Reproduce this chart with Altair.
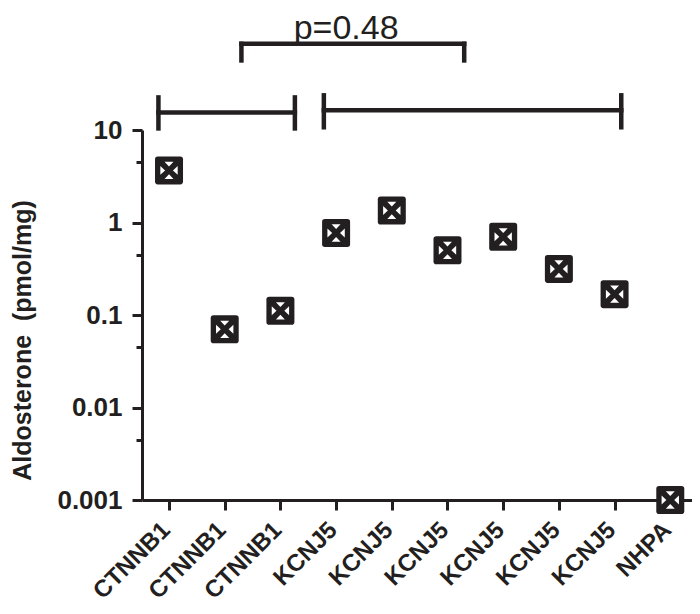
import json
import altair as alt
import pandas as pd

# ---- data ----
categories = ["CTNNB1", "CTNNB1", "CTNNB1", "KCNJ5", "KCNJ5", "KCNJ5",
              "KCNJ5", "KCNJ5", "KCNJ5", "NHPA"]
aldosterone = [3.66, 0.070, 0.111, 0.77, 1.35, 0.50, 0.70, 0.315, 0.168, 0.001]

y_major_ticks = [0.001, 0.01, 0.1, 1, 10]
y_minor_ticks = [0.0045, 0.045, 0.45, 4.5]

# group brackets (category-index units / data units)
group_x1 = [-0.19, 2.78]
group_x2 = [2.26, 8.12]
group_y = [15.5, 16.3]
group_top = [22.5, 23.7]
group_bottom = [10.4, 10.7]

# comparison bracket
compare_x = [1.30, 5.30]
compare_y = 85.5
compare_leg = 56.5

p_label = "p=0.48"
p_label_x = 3.18
p_label_y = 97.5

INK = "#231f20"
FONT = "Arial"

# ---- tables ----
points = pd.DataFrame({
    "idx": list(range(len(categories))),
    "cat": categories,
    "value": aldosterone,
})

segs = []
for a, b, h, t, bt in zip(group_x1, group_x2, group_y, group_top, group_bottom):
    segs.append({"x": a, "x2": b, "y": h, "y2": h})
    segs.append({"x": a, "x2": a, "y": t, "y2": bt})
    segs.append({"x": b, "x2": b, "y": t, "y2": bt})
segs.append({"x": compare_x[0], "x2": compare_x[1], "y": compare_y, "y2": compare_y})
segs.append({"x": compare_x[0], "x2": compare_x[0], "y": compare_y, "y2": compare_leg})
segs.append({"x": compare_x[1], "x2": compare_x[1], "y": compare_y, "y2": compare_leg})
segs = pd.DataFrame(segs).rename(columns={"x": "idx", "y": "value"})

ptext = pd.DataFrame({"idx": [p_label_x], "value": [p_label_y], "t": [p_label]})

# ---- scales & axes ----
xscale = alt.Scale(domain=[-0.485, 9.39], nice=False, zero=False)
yscale = alt.Scale(type="log", domain=[0.001, 10], nice=False)

major_test = "indexof(" + json.dumps(y_major_ticks) + ", datum.value) >= 0"

xaxis = alt.Axis(
    values=list(range(len(categories))),
    labelExpr=json.dumps(categories) + "[datum.value]",
    title=None, grid=False,
    labelAngle=-45, labelAlign="right", labelBaseline="middle",
    labelFont=FONT, labelFontWeight="bold", labelFontSize=24, labelColor=INK,
    labelPadding=16, labelOffset=-3,
    labelOverlap=False, labelBound=False, labelFlush=False,
    domainColor=INK, domainWidth=3, tickColor=INK, tickWidth=3, tickSize=10,
)

yaxis = alt.Axis(
    values=y_major_ticks + y_minor_ticks,
    format="~g",
    labelExpr=major_test + " ? datum.label : ''",
    title="Aldosterone\u00a0 (pmol/mg)",
    titleFont=FONT, titleFontWeight="bold", titleFontSize=25, titleColor=INK,
    titleX=-120, titleY=210, titleAngle=270, titleAlign="center", titleBaseline="middle",
    grid=False,
    labelFont=FONT, labelFontWeight="bold", labelFontSize=26, labelColor=INK,
    labelPadding=10, labelOverlap=False, labelBound=False, labelFlush=False,
    domainColor=INK, domainWidth=3, tickColor=INK, tickWidth=3,
    tickSize={"condition": {"test": major_test, "value": 10}, "value": 6},
)

X = alt.X("idx:Q", scale=xscale, axis=xaxis)
Y = alt.Y("value:Q", scale=yscale, axis=yaxis)

rounded_square = ("M -0.8,-1 L 0.8,-1 Q 1,-1 1,-0.8 L 1,0.8 Q 1,1 0.8,1 "
                  "L -0.8,1 Q -1,1 -1,0.8 L -1,-0.8 Q -1,-1 -0.8,-1 Z")
triangles = ("M -0.32,-0.62 L 0.32,-0.62 L 0,-0.28 Z "
             "M -0.32,0.62 L 0.32,0.62 L 0,0.28 Z "
             "M -0.62,-0.32 L -0.62,0.32 L -0.28,0 Z "
             "M 0.62,-0.32 L 0.62,0.32 L 0.28,0 Z")

base = alt.Chart(points)

squares = base.mark_point(shape=rounded_square, filled=True, size=784,
                          color=INK, opacity=1, strokeWidth=0).encode(x=X, y=Y)

crosses = base.mark_point(shape=triangles, filled=True, size=784,
                          color="white", opacity=1, strokeWidth=0).encode(x=X, y=Y)

brackets = alt.Chart(segs).mark_rule(color=INK, strokeWidth=4.5, strokeCap="square").encode(
    x=X, x2="x2:Q", y=Y, y2="y2:Q",
)

ptxt = alt.Chart(ptext).mark_text(font=FONT, fontSize=34, color=INK,
                                  align="center", baseline="alphabetic").encode(
    x=X, y=Y, text="t:N",
)

chart = alt.layer(squares, crosses, brackets, ptxt).properties(
    width=550, height=370,
    autosize=alt.AutoSizeParams(type="none"),
    padding={"left": 134, "top": 122, "right": 0, "bottom": 106},
).configure_view(stroke=None)

chart.save("out.html", embed_options={"renderer": "svg", "actions": False})
